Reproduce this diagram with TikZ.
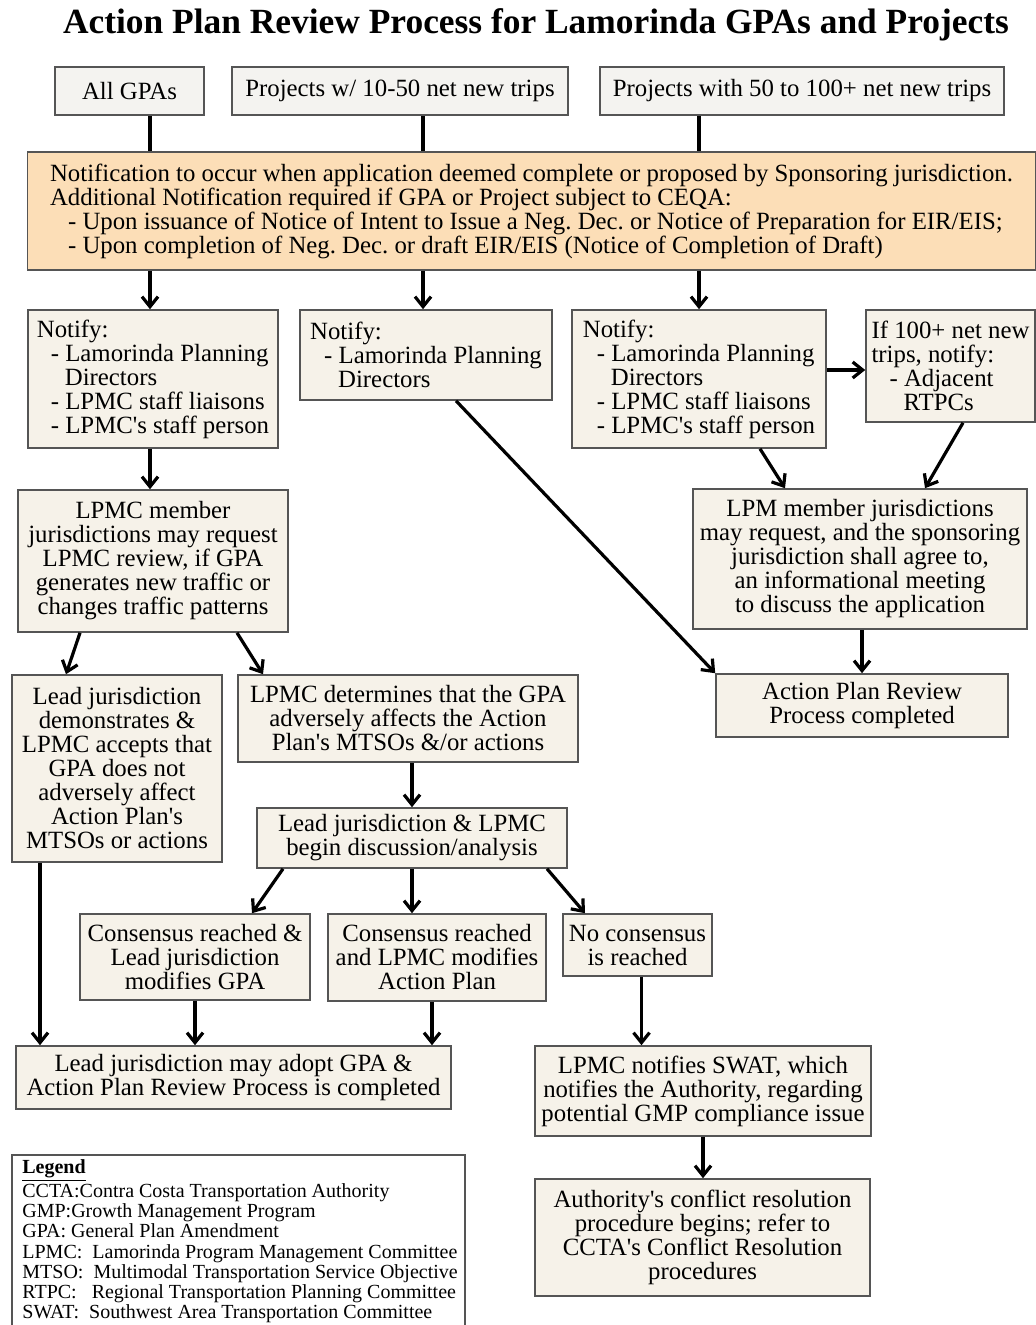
\documentclass[tikz,border=0pt]{standalone}
\usepackage{fontspec}
\setmainfont{Liberation Serif}
\usetikzlibrary{arrows.meta,positioning,calc}
\definecolor{boxfill}{RGB}{246,242,233}
\definecolor{topfill}{RGB}{244,243,240}
\definecolor{notefill}{RGB}{252,222,183}
\definecolor{boxline}{RGB}{85,85,85}
\newcommand{\ap}{\textquotesingle}

\begin{document}
\begin{tikzpicture}[x=0.5pt,y=-0.5pt,
    box/.style={draw=boxline,fill=#1,line width=0.8pt,inner sep=0pt,
                align=center,font=\fontsize{12.4}{12}\selectfont},
    box/.default=boxfill,
    arr/.style={-{Straight Barb[length=5pt,width=8pt]},line width=1.6pt},
    link/.style={line width=1.6pt}]

    \useasboundingbox (0,0) rectangle (1036,1325);
    \clip (0,0) rectangle (1036,1325);

    % Title
    \node[font=\bfseries\fontsize{17.7}{20}\selectfont] (title) at (536,25)
      {Action Plan Review Process for Lamorinda GPAs and Projects};

    % Columns used by the straight connectors
    \coordinate (colA) at (150,0);
    \coordinate (colB) at (423,0);
    \coordinate (colC) at (699,0);
    \coordinate (colL) at (40,0);

    % Row 1: entry points
    \node[box=topfill,minimum width=74.5pt,minimum height=24pt] (allgpa) at (129.5,91) {All GPAs};
    \node[box=topfill,minimum width=168pt,minimum height=24pt] (proj10) at (400,91) {Projects w/ 10-50 net new trips};
    \node[box=topfill,minimum width=202pt,minimum height=24pt] (proj50) at (802,91) {Projects with 50 to 100+ net new trips};

    % Row 2: notification
    \node[box=notefill,align=left,minimum width=504pt,minimum height=59pt] (notif) at (531.5,211)
      {Notification to occur when application deemed complete or proposed by Sponsoring jurisdiction.\\
       Additional Notification required if GPA or Project subject to CEQA:\\
       \hspace*{9pt}- Upon issuance of Notice of Intent to Issue a Neg.\ Dec.\ or Notice of Preparation for EIR/EIS;\\
       \hspace*{9pt}- Upon completion of Neg.\ Dec.\ or draft EIR/EIS (Notice of Completion of Draft)};

    % Row 3: who is notified
    \node[box,align=left,minimum width=125pt,minimum height=69pt] (notifyA) at (153,379)
      {Notify:\\ \hspace*{7pt}- Lamorinda Planning\\ \hspace*{14pt}Directors\\
       \hspace*{7pt}- LPMC staff liaisons\\ \hspace*{7pt}- LPMC\ap s staff person};
    \node[box,align=left,minimum width=126pt,minimum height=45pt] (notifyB) at (426,355)
      {Notify:\\ \hspace*{7pt}- Lamorinda Planning\\ \hspace*{14pt}Directors};
    \node[box,align=left,minimum width=127pt,minimum height=69pt] (notifyC) at (699,379)
      {Notify:\\ \hspace*{7pt}- Lamorinda Planning\\ \hspace*{14pt}Directors\\
       \hspace*{7pt}- LPMC staff liaisons\\ \hspace*{7pt}- LPMC\ap s staff person};
    \node[box,align=left,minimum width=84.5pt,minimum height=56pt] (adjrtpc) at (950.5,366)
      {If 100+ net new\\ trips, notify:\\ \hspace*{9pt}- Adjacent\\ \hspace*{16pt}RTPCs};

    % Row 4: review requests
    \node[box,minimum width=135pt,minimum height=71pt] (member) at (153,561)
      {LPMC member\\ jurisdictions may request\\ LPMC review, if GPA\\ generates new traffic or\\ changes traffic patterns};
    \node[box,minimum width=167pt,minimum height=70pt] (meeting) at (860,559)
      {LPM member jurisdictions\\ may request, and the sponsoring\\ jurisdiction shall agree to,\\ an informational meeting\\ to discuss the application};
    \node[box,minimum width=146pt,minimum height=31.5pt] (done) at (862,705.5)
      {Action Plan Review\\ Process completed};

    % Row 5: outcome of LPMC review
    \node[box,minimum width=105pt,minimum height=93.5pt] (accept) at (117,768.5)
      {Lead jurisdiction\\ demonstrates \&\\ LPMC accepts that\\ GPA does not\\ adversely affect\\ Action Plan\ap s\\ MTSOs or actions};
    \node[box,minimum width=170pt,minimum height=43.5pt] (adverse) at (408,718.5)
      {LPMC determines that the GPA\\ adversely affects the Action\\ Plan\ap s MTSOs \&/or actions};
    \node[box,minimum width=155pt,minimum height=30pt] (disc) at (412,838)
      {Lead jurisdiction \& LPMC\\ begin discussion/analysis};

    % Row 6: consensus
    \node[box,minimum width=115pt,minimum height=43pt] (cons1) at (195,957)
      {Consensus reached \&\\ Lead jurisdiction\\ modifies GPA};
    \node[box,minimum width=109pt,minimum height=43.5pt] (cons2) at (437,957.5)
      {Consensus reached\\ and LPMC modifies\\ Action Plan};
    \node[box,minimum width=74.5pt,minimum height=31pt] (nocons) at (637.5,945)
      {No consensus\\ is reached};

    % Row 7: end states
    \node[box,minimum width=217.5pt,minimum height=31.5pt] (adopt) at (233.5,1077.5)
      {Lead jurisdiction may adopt GPA \&\\ Action Plan Review Process is completed};
    \node[box,minimum width=168pt,minimum height=45pt] (swat) at (703,1091)
      {LPMC notifies SWAT, which\\ notifies the Authority, regarding\\ potential GMP compliance issue};
    \node[box,minimum width=167.5pt,minimum height=58.5pt] (auth) at (702.5,1237.5)
      {Authority\ap s conflict resolution\\ procedure begins; refer to\\ CCTA\ap s Conflict Resolution\\ procedures};

    % Legend
    \coordinate (legendR) at (465,1155);
    \node[anchor=north west,align=left,inner xsep=5pt,inner ysep=2pt,
          font=\fontsize{10}{10.1}\selectfont] (legend) at (12,1155)
      {\underline{\textbf{Legend}}\\
       CCTA:Contra Costa Transportation Authority\\
       GMP:Growth Management Program\\
       GPA: General Plan Amendment\\
       LPMC:\ \ Lamorinda Program Management Committee\\
       MTSO:\ \ Multimodal Transportation Service Objective\\
       RTPC:\ \ \ Regional Transportation Planning Committee\\
       SWAT:\ \ Southwest Area Transportation Committee};
    \draw[draw=boxline,line width=0.8pt] ([yshift=-10pt]legend.south west) |- (legendR)
      -- ([yshift=-10pt]legendR |- legend.south);

    % Connectors
    \draw[link] (allgpa.south -| colA) -- (notif.north -| colA);
    \draw[link] (proj10.south -| colB) -- (notif.north -| colB);
    \draw[link] (proj50.south -| colC) -- (notif.north -| colC);
    \draw[arr] (notif.south -| colA) -- (notifyA.north -| colA);
    \draw[arr] (notif.south -| colB) -- (notifyB.north -| colB);
    \draw[arr] (notif.south -| colC) -- (notifyC.north -| colC);
    \draw[arr] ([yshift=4.5pt]notifyC.east) -- ([yshift=4.5pt]notifyC.east -| adjrtpc.west);
    \draw[arr] ([xshift=30.5pt]notifyC.south) -- ([xshift=-37.5pt]meeting.north);
    \draw[arr] ([xshift=6.25pt]adjrtpc.south) -- ([xshift=32.5pt]meeting.north);
    \draw[arr] (meeting.south -| done.north) -- (done.north);
    \draw[arr] ([xshift=15pt]notifyB.south) -- (done.north west);
    \draw[arr] (notifyA.south -| colA) -- (member.north -| colA);
    \draw[arr] ([xshift=-36.5pt]member.south) -- ([xshift=-25.5pt]accept.north);
    \draw[arr] ([xshift=42pt]member.south) -- ([xshift=-72.5pt]adverse.north);
    \draw[arr] (adverse.south -| disc.north) -- (disc.north);
    \draw[arr] ([xshift=-64.5pt]disc.south) -- ([xshift=28.5pt]cons1.north);
    \draw[arr] (disc.south) -- (disc.south |- cons2.north);
    \draw[arr] ([xshift=67.5pt]disc.south) -- ([xshift=-26.25pt]nocons.north);
    \draw[arr] (accept.south -| colL) -- (adopt.north -| colL);
    \draw[arr] (cons1.south) -- (cons1.south |- adopt.north);
    \draw[arr] ([xshift=-2.5pt]cons2.south) -- ([xshift=-2.5pt]cons2.south |- adopt.north);
    \draw[arr] ([xshift=2pt]nocons.south) -- ([xshift=2pt]nocons.south |- swat.north);
    \draw[arr] (swat.south) -- (swat.south |- auth.north);
\end{tikzpicture}
\end{document}
